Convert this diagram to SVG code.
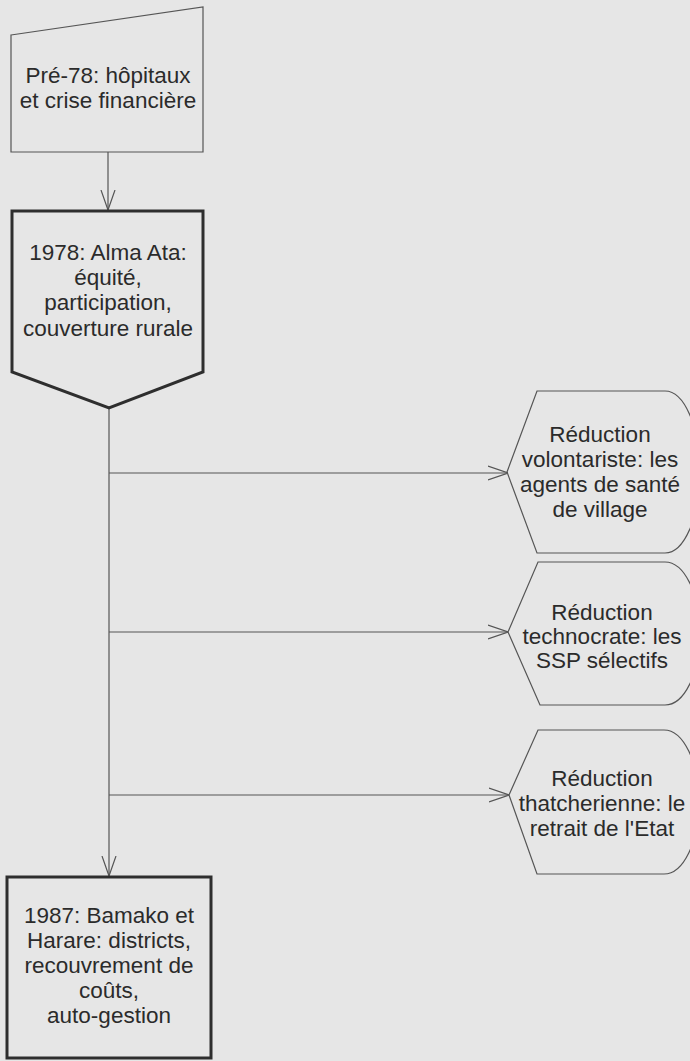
<svg xmlns="http://www.w3.org/2000/svg" width="690" height="1061" viewBox="0 0 690 1061">
  <style>
    .thin { fill: none; stroke: #555555; stroke-width: 1.2; }
    .thick { fill: none; stroke: #2e2e2e; stroke-width: 3; stroke-linejoin: miter; }
    .lbl { font-family: "Liberation Sans", Arial, sans-serif; font-size: 22.5px; fill: #2b2b2b; text-anchor: middle; }
  </style>
  <defs>
    <marker id="vee" viewBox="0 0 20 16" refX="20" refY="8" markerWidth="20" markerHeight="16" markerUnits="userSpaceOnUse" orient="auto">
      <path d="M0,1 L20,8 L0,15" fill="none" stroke="#555555" stroke-width="1.2"/>
    </marker>
  </defs>
  <rect width="690" height="1061" fill="#e6e6e6"/>

  <g id="connectors">
    <line class="thin" x1="108" y1="152" x2="108" y2="210" marker-end="url(#vee)"/>
    <line class="thin" x1="109" y1="408" x2="109" y2="876" marker-end="url(#vee)"/>
    <line class="thin" x1="109" y1="473" x2="508" y2="473" marker-end="url(#vee)"/>
    <line class="thin" x1="109" y1="632" x2="508" y2="632" marker-end="url(#vee)"/>
    <line class="thin" x1="109" y1="795" x2="509" y2="795" marker-end="url(#vee)"/>
  </g>

  <g id="pre78">
    <path class="thin" d="M11,35 L203,7 L203,152 L11,152 Z"/>
    <text class="lbl" x="108" y="83">Pré-78: hôpitaux</text>
    <text class="lbl" x="108" y="108">et crise financière</text>
  </g>

  <g id="alma-ata">
    <path class="thick" d="M12,211 L203,211 L203,372 L109,408 L12,372 Z"/>
    <text class="lbl" x="108" y="260">1978: Alma Ata:</text>
    <text class="lbl" x="108" y="285">équité,</text>
    <text class="lbl" x="108" y="310">participation,</text>
    <text class="lbl" x="108" y="336">couverture rurale</text>
  </g>

  <g id="volontariste">
    <path class="thin" d="M507,472 L537,391 L665,391 A35,81 0 0 1 665,553 L537,553 Z"/>
    <text class="lbl" x="600" y="442">Réduction</text>
    <text class="lbl" x="600" y="467">volontariste: les</text>
    <text class="lbl" x="600" y="492">agents de santé</text>
    <text class="lbl" x="600" y="517">de village</text>
  </g>

  <g id="technocrate">
    <path class="thin" d="M508,632 L538,562 L665,562 A35,71.5 0 0 1 665,705 L540,705 Z"/>
    <text class="lbl" x="602" y="620">Réduction</text>
    <text class="lbl" x="602" y="644">technocrate: les</text>
    <text class="lbl" x="602" y="668">SSP sélectifs</text>
  </g>

  <g id="thatcherienne">
    <path class="thin" d="M509,795 L538,730 L664,730 A35,72 0 0 1 664,874 L537,874 Z"/>
    <text class="lbl" x="602" y="786">Réduction</text>
    <text class="lbl" x="602" y="811">thatcherienne: le</text>
    <text class="lbl" x="602" y="836">retrait de l'Etat</text>
  </g>

  <g id="bamako">
    <rect class="thick" x="7" y="877" width="204" height="181"/>
    <text class="lbl" x="109" y="923">1987: Bamako et</text>
    <text class="lbl" x="109" y="948">Harare: districts,</text>
    <text class="lbl" x="109" y="973">recouvrement de</text>
    <text class="lbl" x="109" y="998">coûts,</text>
    <text class="lbl" x="109" y="1023">auto-gestion</text>
  </g>
</svg>
